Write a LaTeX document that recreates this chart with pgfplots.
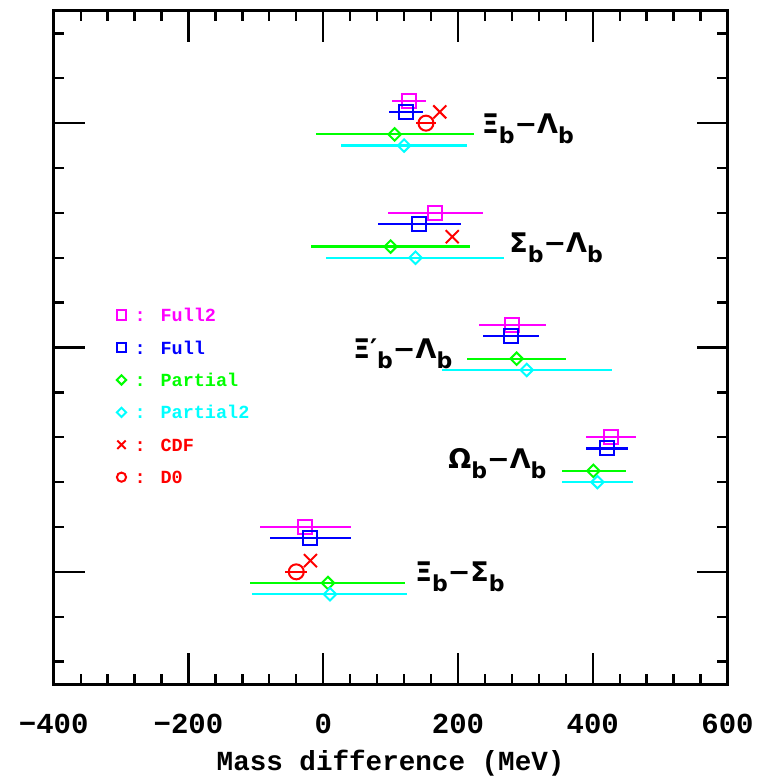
\documentclass[border=0pt]{standalone}
\usepackage{pgfplots}
\pgfplotsset{compat=1.18}
\usepackage{fontspec}
\setmainfont{Liberation Mono}
\newfontfamily\greekfam{DejaVu Sans}

\definecolor{cMag}{RGB}{255,0,255}
\definecolor{cBlue}{RGB}{0,0,255}
\definecolor{cGreen}{RGB}{0,255,0}
\definecolor{cCyan}{RGB}{0,255,255}
\definecolor{cRed}{RGB}{255,0,0}

% baryon mass-difference labels with a lowered "b"
\newcommand{\sub}[1]{\raisebox{-10pt}{\fontsize{22}{22}\selectfont #1}}
\newcommand{\pair}[2]{{\greekfam\bfseries\fontsize{27}{27}\selectfont #1\sub{b}−#2\sub{b}}}

\pgfplotsset{
  errx/.style={error bars/x dir=both, error bars/x explicit, error bars/error mark=none,
    error bars/error bar style={line width=2.2pt, solid, #1}},
}

\begin{document}
\begin{tikzpicture}
\begin{axis}[
  scale only axis, width=673.8pt, height=673pt,
  xmin=-400, xmax=600, ymin=-0.5, ymax=14.5,
  xtick={-400,-200,0,200,400,600},
  xticklabels={−400,−200,0,200,400,600},
  minor x tick num=4,
  ytick={2,7,12}, yticklabels={},
  minor ytick={0,1,3,4,5,6,8,9,10,11,13,14},
  tick align=inside,
  major tick length=31pt, minor tick length=10.5pt,
  tick style={black, line width=2.3pt},
  axis line style={line width=3pt},
  ticklabel style={font=\fontsize{29}{29}\selectfont\bfseries},
  xticklabel style={anchor=base, yshift=-49pt},
  xlabel={Mass difference (MeV)},
  xlabel style={font=\fontsize{27.6}{27.6}\selectfont\bfseries, anchor=base,
    at={(axis description cs:0.5,0)}, yshift=-86pt},
  legend style={at={(axis description cs:0.0932,0.558)}, anchor=north west,
    draw=none, fill=none, inner sep=0pt, row sep=19.4pt, column sep=8.4pt,
    font=\fontsize{18.5}{18.5}\selectfont\bfseries,
    nodes={inner sep=0pt, text height=13pt, text depth=0pt}},
  legend cell align=left,
]

% Full2
\addplot[only marks, mark=square, draw=cMag, mark size=7pt,
  mark options={line width=2pt},
  legend image post style={mark size=4.8pt}, errx=cMag]
coordinates {
  (127,12.5)  += (25,0) -= (25,0)
  (166,10.0)  += (71,0) -= (70,0)
  (280,7.5)   += (50,0) -= (49,0)
  (427,5.0)   += (37,0) -= (37,0)
  (-27,3.0)   += (68,0) -= (67,0)
};
\addlegendentry[text=cMag]{: Full2}

% Full
\addplot[only marks, mark=square, draw=cBlue, mark size=7pt,
  mark options={line width=2pt},
  legend image post style={mark size=4.8pt}, errx=cBlue]
coordinates {
  (123,12.25) += (25,0) -= (25,0)
  (142,9.75)  += (62,0) -= (60,0)
  (278,7.25)  += (42,0) -= (41,0)
  (421,4.75)  += (32,0) -= (31,0)
  (-20,2.75)  += (61,0) -= (59,0)
};
\addlegendentry[text=cBlue]{: Full}

% Partial
\addplot[only marks, mark=square, draw=cGreen, mark size=4.4pt,
  mark options={line width=2pt, rotate=45},
  legend image post style={mark size=3.3pt}, errx=cGreen]
coordinates {
  (106,11.75) += (118,0) -= (117,0)
  (100,9.25)  += (118,0) -= (118,0)
  (287,6.75)  += (74,0)  -= (74,0)
  (401,4.25)  += (48,0)  -= (47,0)
  (7,1.75)    += (115,0) -= (115,0)
};
\addlegendentry[text=cGreen]{: Partial}

% Partial2
\addplot[only marks, mark=square, draw=cCyan, mark size=4.4pt,
  mark options={line width=2pt, rotate=45},
  legend image post style={mark size=3.3pt}, errx=cCyan]
coordinates {
  (120,11.5)  += (93,0)  -= (94,0)
  (137,9.0)   += (132,0) -= (133,0)
  (302,6.5)   += (126,0) -= (126,0)
  (407,4.0)   += (53,0)  -= (53,0)
  (10,1.5)    += (114,0) -= (115,0)
};
\addlegendentry[text=cCyan]{: Partial2}

% CDF
\addplot[only marks, mark=x, draw=cRed, mark size=9.2pt,
  mark options={line width=2pt},
  legend image post style={mark size=5.9pt}]
coordinates {
  (173,12.25)
  (191.5,9.47)
  (-19,2.25)
};
\addlegendentry[text=cRed]{: CDF}

% D0
\addplot[only marks, mark=o, draw=cRed, mark size=7.5pt,
  mark options={line width=2pt},
  legend image post style={mark size=4.6pt}, errx=cRed]
coordinates {
  (152.5,12.0) += (15,0) -= (15,0)
  (-40,2.0)    += (16,0) -= (16,0)
};
\addlegendentry[text=cRed]{: D0}

\node[anchor=base west, inner sep=0pt] at (axis cs:235,11.78) {\pair{Ξ}{Λ}};
\node[anchor=base west, inner sep=0pt] at (axis cs:276,9.12) {\pair{Σ}{Λ}};
\node[anchor=base west, inner sep=0pt] at (axis cs:44,6.75) {\pair{Ξ′}{Λ}};
\node[anchor=base west, inner sep=0pt] at (axis cs:185.6,4.31) {\pair{Ω}{Λ}};
\node[anchor=base west, inner sep=0pt] at (axis cs:136,1.78) {\pair{Ξ}{Σ}};
\end{axis}
\pgfresetboundingbox
\path[use as bounding box]
  ([shift={(-53.7pt,-92pt)}]current axis.south west)
  rectangle ([shift={(33.5pt,11pt)}]current axis.north east);
\end{tikzpicture}
\end{document}
